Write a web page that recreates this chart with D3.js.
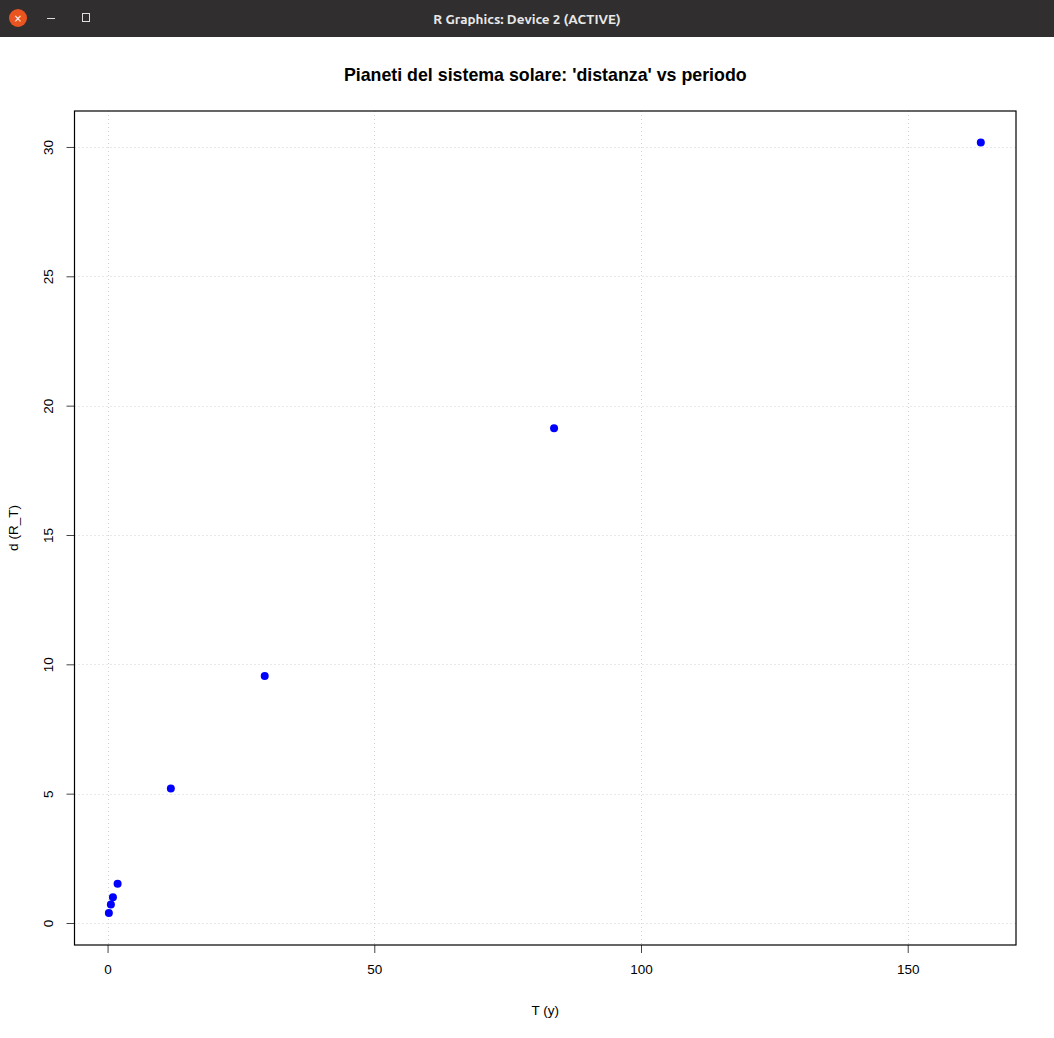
<!DOCTYPE html>
<html><head><meta charset="utf-8">
<script src="https://cdn.jsdelivr.net/npm/d3@7"></script>
<style>html,body{margin:0;padding:0;background:#fff;overflow:hidden}</style>
</head><body>
<script>
const planets = ["Mercurio","Venere","Terra","Marte","Giove","Saturno","Urano","Nettuno"];
const periodT = [0.24, 0.62, 1.0, 1.88, 11.86, 29.46, 83.7, 163.7];
const distD = [0.39, 0.72, 1.0, 1.52, 5.2, 9.55, 19.13, 30.17];
const xTicks = [0, 50, 100, 150];
const yTicks = [0, 5, 10, 15, 20, 25, 30];

const W = 1054, H = 1038;
const svg = d3.select("body").append("svg").attr("width", W).attr("height", H);
svg.append("rect").attr("width", W).attr("height", H).attr("fill", "#fff");

// window title bar
svg.append("rect").attr("width", W).attr("height", 37).attr("fill", "#302e2e");
svg.append("circle").attr("cx", 18).attr("cy", 18).attr("r", 9).attr("fill", "#e95420");
svg.append("text").attr("x", 18).attr("y", 22).attr("text-anchor", "middle")
  .attr("font-family", "DejaVu Sans").attr("font-size", 10).attr("fill", "#fff").text("×");
svg.append("line").attr("x1", 47).attr("x2", 55).attr("y1", 18.5).attr("y2", 18.5).attr("stroke", "#ddd").attr("stroke-width", 1);
svg.append("rect").attr("x", 82.5).attr("y", 13.5).attr("width", 7).attr("height", 8).attr("fill", "none").attr("stroke", "#ddd");
svg.append("text").attr("x", 527).attr("y", 23.5).attr("text-anchor", "middle")
  .attr("font-family", "Ubuntu, 'DejaVu Sans'").attr("font-weight", "bold").attr("font-size", 13.5)
  .attr("fill", "#e8e8e8").text("R Graphics: Device 2 (ACTIVE)");

const L = 74.5, R = 1016, T = 111, B = 945;
const x = d3.scaleLinear().domain([-6.2, 170.3]).range([L, R]);
const y = d3.scaleLinear().domain([-0.85, 31.39]).range([B, T]);

const font = "'Liberation Sans', Arial, sans-serif";

// grid
const g = svg.append("g");
g.selectAll(".gx").data(xTicks).join("line")
  .attr("x1", d => Math.round(x(d)) + 0.5).attr("x2", d => Math.round(x(d)) + 0.5)
  .attr("y1", T).attr("y2", B)
  .attr("stroke", "#d3d3d3").attr("stroke-dasharray", "1,3");
g.selectAll(".gy").data(yTicks).join("line")
  .attr("y1", d => Math.round(y(d)) + 0.5).attr("y2", d => Math.round(y(d)) + 0.5)
  .attr("x1", L).attr("x2", R)
  .attr("stroke", "#d3d3d3").attr("stroke-dasharray", "1,3");

// axes
const xAxis = svg.append("g").attr("transform", `translate(0,${B})`)
  .call(d3.axisBottom(x).tickValues(xTicks).tickSize(8).tickPadding(11).tickFormat(d3.format("d")));
xAxis.select(".domain").remove();
xAxis.selectAll("line").attr("stroke", "#444");
xAxis.selectAll("text").attr("font-family", font).attr("font-size", 13.5).attr("fill", "#000");

const yAxis = svg.append("g").attr("transform", `translate(${L},0)`)
  .call(d3.axisLeft(y).tickValues(yTicks).tickSize(8).tickPadding(0).tickFormat(d3.format("d")));
yAxis.select(".domain").remove();
yAxis.selectAll("line").attr("stroke", "#444");
yAxis.selectAll("text").attr("font-family", font).attr("font-size", 13.5).attr("fill", "#000")
  .attr("text-anchor", "middle").attr("x", 0).attr("dy", 0)
  .attr("transform", "translate(-22,0) rotate(-90)").attr("y", 0);

// box
svg.append("rect").attr("x", L).attr("y", T).attr("width", R - L).attr("height", B - T)
  .attr("fill", "none").attr("stroke", "#000").attr("stroke-width", 1.2);

// points
svg.selectAll(".pt").data(periodT).join("circle")
  .attr("cx", d => x(d)).attr("cy", (d, i) => y(distD[i])).attr("r", 4)
  .attr("fill", "#0000ff");

// title & labels
svg.append("text").attr("x", (L + R) / 2).attr("y", 81).attr("text-anchor", "middle")
  .attr("font-family", font).attr("font-weight", "bold").attr("font-size", 17.8).text("Pianeti del sistema solare: 'distanza' vs periodo");
svg.append("text").attr("x", (L + R) / 2).attr("y", 1015).attr("text-anchor", "middle")
  .attr("font-family", font).attr("font-size", 13.5).text("T (y)");
svg.append("text").attr("transform", `translate(18,${(T + B) / 2}) rotate(-90)`).attr("text-anchor", "middle")
  .attr("font-family", font).attr("font-size", 13.5).text("d (R_T)");
</script>
</body></html>
